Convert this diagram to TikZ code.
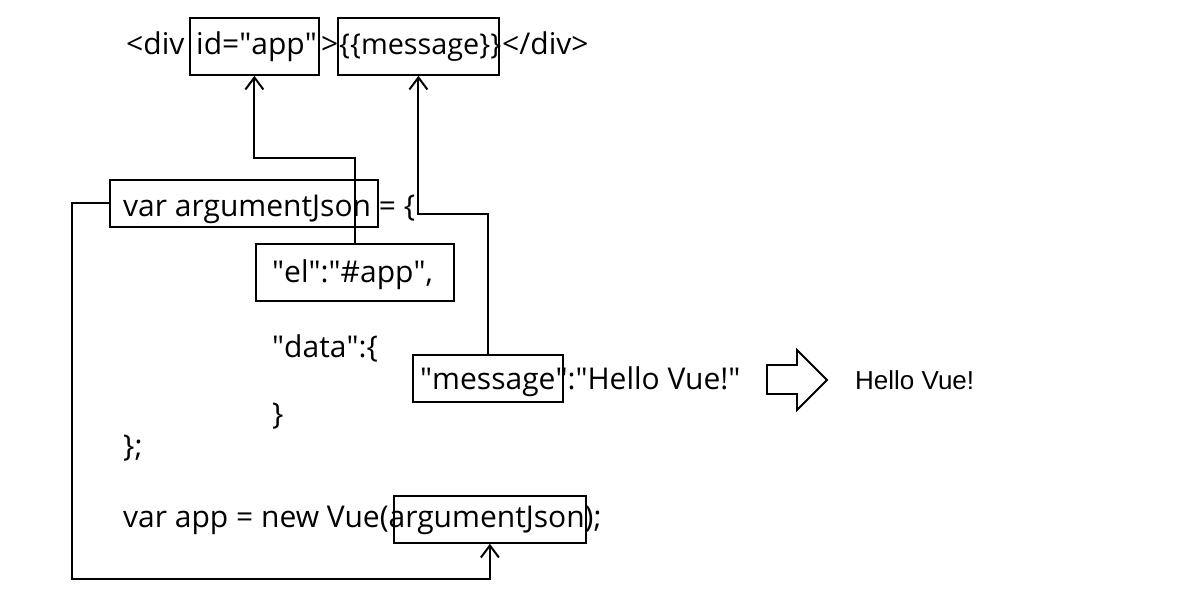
\documentclass[tikz,border=0pt]{standalone}
\usepackage{fontspec}
\setmainfont{Open Sans}
\newfontfamily\arialfont{Liberation Sans}
\usetikzlibrary{arrows.meta}
\newcommand{\qq}{\textquotedbl}
\begin{document}
\begin{tikzpicture}[x=1pt,y=-1pt,
  box/.style={draw, line width=1.8pt, inner sep=0pt, anchor=north west},
  code/.style={anchor=base west, inner sep=0pt, font=\fontsize{30}{36}\selectfont},
  link/.style={draw, line width=2pt, -{Straight Barb[length=12pt,width=18pt,line width=2pt]}}]
\useasboundingbox (0,0) rectangle (1195,604);
% code text
\node[code] (t1a) at (126,55) {<div};
\node[code] (t1b) at (196,55) {id=\qq app\qq};
\node[code] (t1c) at (321,55) {>};
\node[code, font=\fontsize{28.8}{34}\selectfont] (t1d) at (339,55) {\{\{message\}\}};
\node[code] (t1e) at (502,55) {</div>};
\node[code] (t2) at (123,217) {var argumentJson = \{};
\node[code] (t3) at (272,283) {\qq el\qq:\qq\#app\qq,};
\node[code] (t4) at (272,357) {\qq data\qq:\{};
\node[code] (t5) at (420,389) {\qq message\qq:\qq Hello Vue!\qq};
\node[code] (t6) at (272,424) {\}};
\node[code] (t7) at (123,456) {\};};
\node[code] (t8) at (123,527) {var app = new Vue(argumentJson);};
% boxes
\node[box, minimum width=129, minimum height=57] (idbox) at (189,17) {};
\node[box, minimum width=161, minimum height=57] (msgbox) at (337,17) {};
\node[box, minimum width=268, minimum height=47] (varbox) at (109,179) {};
\node[box, minimum width=198, minimum height=57] (elbox) at (255,243) {};
\node[box, minimum width=150, minimum height=47] (messagebox) at (412,354) {};
\node[box, minimum width=192, minimum height=47] (argbox) at (393,495) {};
% bend points
\coordinate (k1) at (300,158);
\coordinate (k2) at (450,214);
\coordinate (k3) at (72,579);
% connectors
\draw[link] (elbox.north) |- (k1) -| (idbox.south);
\draw[link] (messagebox.north) |- (k2) -| (msgbox.south);
\draw[link] (varbox.west) -| (k3) -| (argbox.south);
% block arrow
\draw[line width=1.8pt, line join=miter] (767,365) -- (797,365) -- (797,350) -- (827,380) -- (797,410) -- (797,394) -- (767,394) -- cycle;
\node[anchor=base west, inner sep=0pt, font=\arialfont\fontsize{26}{30}\selectfont] (result) at (855,389) {Hello Vue!};
\end{tikzpicture}
\end{document}
